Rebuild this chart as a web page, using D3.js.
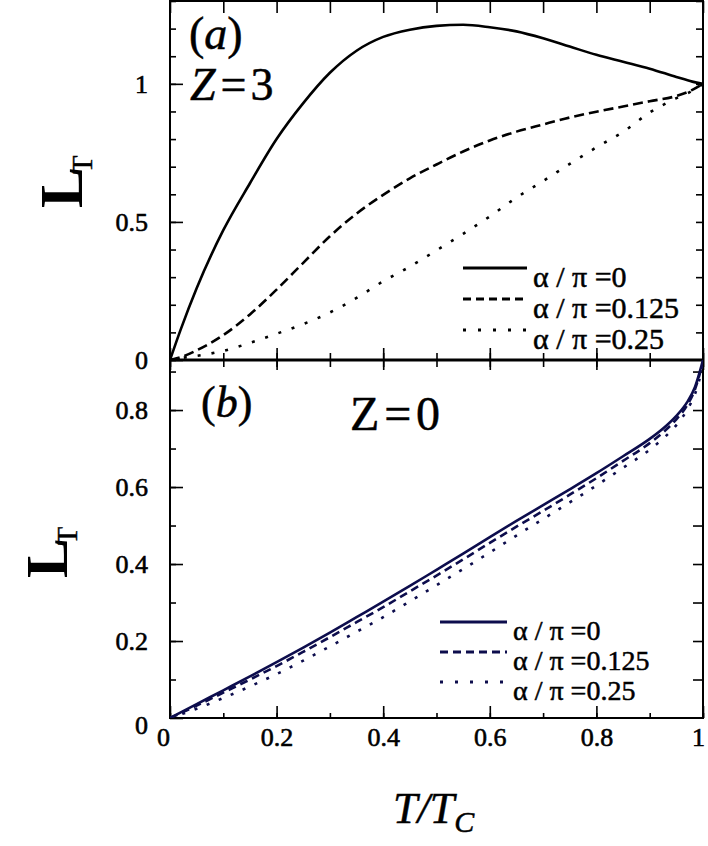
<!DOCTYPE html>
<html>
<head>
<meta charset="utf-8">
<script src="https://cdn.jsdelivr.net/npm/d3@7"></script>
<style>
  html, body { margin: 0; padding: 0; background: #fff; }
  svg text { font-family: "Liberation Serif", "Times New Roman", Tinos, "DejaVu Serif", serif; }
</style>
</head>
<body>
<script>
// panel (a): Z = 3
const tA = [0, 0.02, 0.05, 0.1, 0.15, 0.2, 0.25, 0.3, 0.35, 0.4, 0.45, 0.5, 0.55, 0.6, 0.65, 0.7, 0.75, 0.8, 0.85, 0.9, 0.95, 0.98, 1];
const a0 = [0, 0.11, 0.26, 0.47, 0.64, 0.8, 0.93, 1.04, 1.12, 1.17, 1.196, 1.21, 1.214, 1.205, 1.19, 1.165, 1.135, 1.105, 1.08, 1.055, 1.025, 1.008, 1.0];
const a125 = [0, 0.01, 0.035, 0.09, 0.165, 0.255, 0.352, 0.448, 0.53, 0.598, 0.658, 0.708, 0.755, 0.795, 0.827, 0.853, 0.878, 0.899, 0.918, 0.937, 0.956, 0.978, 1.0];
const a25 = [0, 0.007, 0.015, 0.033, 0.062, 0.095, 0.13, 0.172, 0.225, 0.285, 0.338, 0.397, 0.457, 0.52, 0.588, 0.648, 0.71, 0.77, 0.826, 0.896, 0.948, 0.975, 1.0];

// panel (b): Z = 0
const tB = [0, 0.05, 0.1, 0.15, 0.2, 0.25, 0.3, 0.35, 0.4, 0.45, 0.5, 0.55, 0.6, 0.65, 0.7, 0.75, 0.8, 0.85, 0.9, 0.93, 0.95, 0.97, 0.985, 1];
const b0 = [0, 0.036, 0.072, 0.108, 0.145, 0.183, 0.222, 0.262, 0.302, 0.343, 0.385, 0.427, 0.47, 0.512, 0.553, 0.594, 0.636, 0.68, 0.725, 0.758, 0.785, 0.82, 0.86, 0.93];
const b125 = [0, 0.032, 0.066, 0.1, 0.135, 0.172, 0.21, 0.249, 0.288, 0.329, 0.37, 0.412, 0.455, 0.497, 0.538, 0.58, 0.623, 0.668, 0.714, 0.748, 0.776, 0.812, 0.854, 0.925];
const b25 = [0, 0.024, 0.052, 0.082, 0.114, 0.149, 0.186, 0.224, 0.262, 0.303, 0.345, 0.387, 0.43, 0.474, 0.517, 0.56, 0.604, 0.65, 0.697, 0.732, 0.761, 0.8, 0.842, 0.915];

const legendLabels = ['α / π =0', 'α / π =0.125', 'α / π =0.25'];
const xTicks = [0, 0.2, 0.4, 0.6, 0.8, 1];
const yTicksA = [0, 0.5, 1];
const yTicksB = [0, 0.2, 0.4, 0.6, 0.8];

const width = 708, height = 846;
const navy = '#0d0d4d';
const serif = '"Liberation Serif", "Times New Roman", Tinos, "DejaVu Serif", serif';

const svg = d3.select('body').append('svg')
  .attr('width', width).attr('height', height)
  .attr('font-family', serif);

const x = d3.scaleLinear().domain([0, 1]).range([170, 703]);
const yA = d3.scaleLinear().domain([0, 1.3]).range([360, 1]);
const yB = d3.scaleLinear().domain([0, 0.93]).range([718, 360]);

const minor = d3.range(0, 1.0001, 0.1);

// scanned look: text is a bit heavier than plain Liberation Serif
function heavy(sel, w = 0.6) {
  return sel.attr('stroke', '#000').attr('stroke-width', w);
}

function styleAxis(g) {
  g.attr('font-family', serif);
  g.select('.domain').remove();
  g.selectAll('line').attr('stroke', '#000').attr('stroke-width', 1.6);
  g.selectAll('text').attr('font-size', 26).attr('fill', '#000').call(heavy);
}

// ---- panel (a) ticks ----
svg.append('g').attr('transform', `translate(${x(0)},0)`)
  .call(d3.axisLeft(yA).tickValues(d3.range(0, 1.31, 0.1)).tickSize(-6).tickFormat(''))
  .call(styleAxis);
svg.append('g').attr('transform', `translate(${x(0)},0)`)
  .call(d3.axisLeft(yA).tickValues(yTicksA).tickSize(-13).tickPadding(22).tickFormat(d3.format('')))
  .call(styleAxis);
svg.append('g').attr('transform', `translate(${x(1)},0)`)
  .call(d3.axisRight(yA).tickValues(d3.range(0.1, 1.31, 0.1)).tickSize(-7).tickFormat(''))
  .call(styleAxis);
svg.append('g').attr('transform', `translate(0,${yA(1.3)})`)
  .call(d3.axisTop(x).tickValues(minor).tickSize(-12).tickFormat(''))
  .call(styleAxis);
svg.append('g').attr('transform', `translate(0,${yA(0)})`)
  .call(d3.axisBottom(x).tickValues(minor).tickSize(-7).tickFormat(''))
  .call(styleAxis);
svg.append('g').attr('transform', `translate(0,${yA(0)})`)
  .call(d3.axisBottom(x).tickValues(xTicks).tickSize(-12).tickFormat(''))
  .call(styleAxis);

// ---- panel (b) ticks ----
svg.append('g').attr('transform', `translate(${x(0)},0)`)
  .call(d3.axisLeft(yB).tickValues(d3.range(0.1, 0.91, 0.1)).tickSize(-6).tickFormat(''))
  .call(styleAxis);
const yAxB = svg.append('g').attr('transform', `translate(${x(0)},0)`)
  .call(d3.axisLeft(yB).tickValues(yTicksB).tickSize(-13).tickPadding(22).tickFormat(d3.format('')))
  .call(styleAxis);
yAxB.selectAll('text').filter(d => d === 0).attr('dy', '0.6em');
svg.append('g').attr('transform', `translate(${x(1)},0)`)
  .call(d3.axisRight(yB).tickValues(d3.range(0.1, 0.91, 0.1)).tickSize(-10).tickFormat(''))
  .call(styleAxis);
svg.append('g').attr('transform', `translate(0,${yB(0.93)})`)
  .call(d3.axisTop(x).tickValues(minor).tickSize(-7).tickFormat(''))
  .call(styleAxis);
svg.append('g').attr('transform', `translate(0,${yB(0.93)})`)
  .call(d3.axisTop(x).tickValues(xTicks).tickSize(-10).tickFormat(''))
  .call(styleAxis);
svg.append('g').attr('transform', `translate(0,${yB(0)})`)
  .call(d3.axisBottom(x).tickValues(minor).tickSize(-5).tickFormat(''))
  .call(styleAxis);
const xAxB = svg.append('g').attr('transform', `translate(0,${yB(0)})`)
  .call(d3.axisBottom(x).tickValues(xTicks).tickSize(-12).tickPadding(10).tickFormat(d3.format('')))
  .call(styleAxis);
xAxB.selectAll('text').filter(d => d === 0).attr('dx', '-7');
xAxB.selectAll('text').filter(d => d === 1).attr('dx', '-5');

// ---- frames ----
svg.append('rect').attr('x', x(0)).attr('y', yA(1.3))
  .attr('width', x(1) - x(0)).attr('height', yB(0) - yA(1.3))
  .attr('fill', 'none').attr('stroke', '#000').attr('stroke-width', 2);
svg.append('line').attr('x1', x(0)).attr('x2', x(1)).attr('y1', yA(0)).attr('y2', yA(0))
  .attr('stroke', '#000').attr('stroke-width', 3);

// ---- curves ----
svg.append('clipPath').attr('id', 'clipA').append('rect')
  .attr('x', x(0)).attr('y', yA(1.3)).attr('width', x(1) - x(0)).attr('height', yA(0) - yA(1.3));
svg.append('clipPath').attr('id', 'clipB').append('rect')
  .attr('x', x(0)).attr('y', yB(0.93)).attr('width', x(1) - x(0)).attr('height', yB(0) - yB(0.93));

const seriesA = [a0, a125, a25];
const seriesB = [b0, b125, b25];

const lineA = d3.line().x((d, i) => x(tA[i])).y(d => yA(d)).curve(d3.curveMonotoneX);
const lineB = d3.line().x((d, i) => x(tB[i])).y(d => yB(d)).curve(d3.curveMonotoneX);

svg.append('g').attr('clip-path', 'url(#clipA)')
  .selectAll('path').data(seriesA).join('path')
  .attr('d', lineA)
  .attr('fill', 'none').attr('stroke', '#000').attr('stroke-width', 2.6)
  .attr('stroke-dasharray', (d, i) => [null, '10,5', '3,11'][i]);

svg.append('g').attr('clip-path', 'url(#clipB)')
  .selectAll('path').data(seriesB).join('path')
  .attr('d', lineB)
  .attr('fill', 'none').attr('stroke', navy).attr('stroke-width', 2.6)
  .attr('stroke-dasharray', (d, i) => [null, '8,5', '3,10'][i]);

// ---- legends ----
function legend(g, x0, x1, y0, step, fs, color, dash) {
  legendLabels.forEach((lab, i) => {
    const yy = y0 + i * step;
    g.append('line').attr('x1', x0).attr('x2', x1).attr('y1', yy).attr('y2', yy)
      .attr('stroke', color).attr('stroke-width', 2.8)
      .attr('stroke-dasharray', dash[i]);
    g.append('text').attr('x', x1 + 6).attr('y', yy + fs * 0.64)
      .attr('font-size', fs).attr('fill', '#000').call(heavy, 0.5).text(lab);
  });
}
legend(svg.append('g'), 463, 527, 268, 31, 30, '#000', [null, '8,5', '3,12']);
legend(svg.append('g'), 440, 507, 622, 30, 28, navy, [null, '8,5', '3,12']);

// ---- panel labels ----
const pa = svg.append('text').attr('x', 189).attr('y', 49).attr('font-size', 46).call(heavy, 0.5);
pa.append('tspan').text('(');
pa.append('tspan').attr('font-style', 'italic').text('a');
pa.append('tspan').text(')');

const za = svg.append('text').attr('x', 190).attr('y', 100).attr('font-size', 46).call(heavy, 0.5);
za.append('tspan').attr('font-style', 'italic').text('Z');
za.append('tspan').attr('dx', 5).text('=');
za.append('tspan').attr('dx', 4).text('3');

const pb = svg.append('text').attr('x', 201).attr('y', 417).attr('font-size', 44).call(heavy, 0.5);
pb.append('tspan').text('(');
pb.append('tspan').attr('font-style', 'italic').text('b');
pb.append('tspan').text(')');

svg.append('text').attr('x', 350).attr('y', 430).attr('font-size', 48)
  .attr('textLength', 90).call(heavy, 0.5).text('Z=0');

// ---- axis titles ----
function yTitle(tx, ty, fs) {
  const t = svg.append('text')
    .attr('transform', `translate(${tx},${ty}) rotate(-90)`)
    .attr('font-size', fs).attr('font-weight', 'bold');
  t.append('tspan').text('L');
  t.append('tspan').attr('font-size', 30).attr('font-weight', 'normal')
    .attr('dx', -7).attr('dy', 10).call(heavy, 0.4).text('T');
}
yTitle(82, 208, 62);
yTitle(67, 578, 60);

const xt = svg.append('text').attr('x', 393).attr('y', 823)
  .attr('font-size', 44).attr('font-style', 'italic').call(heavy, 0.5);
xt.append('tspan').text('T/T');
xt.append('tspan').attr('font-size', 30).attr('dy', 9).text('C');
</script>
</body>
</html>
